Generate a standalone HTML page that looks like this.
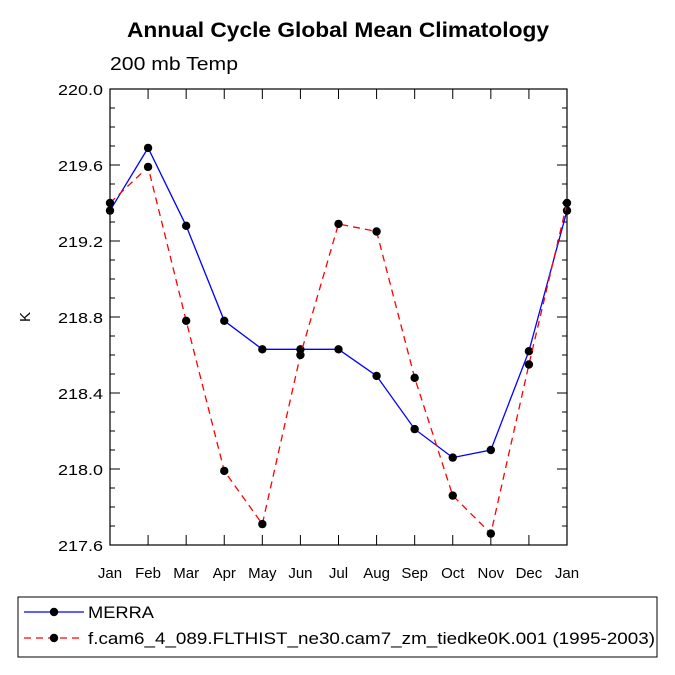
<!DOCTYPE html>
<html><head><meta charset="utf-8"><style>
body{margin:0;background:#fff;}
svg{display:block;font-family:"Liberation Sans",Helvetica,Arial,sans-serif;}
</style></head><body>
<svg id="chart" width="675" height="675" viewBox="0 0 675 675">
<text x="127" y="37" font-size="21" font-weight="bold" textLength="422" lengthAdjust="spacingAndGlyphs">Annual Cycle Global Mean Climatology</text>
<text x="110" y="70" font-size="18" textLength="128" lengthAdjust="spacingAndGlyphs">200 mb Temp</text>
<text x="30" y="317" text-anchor="middle" font-size="15" transform="rotate(-90 30 317)">K</text>
<rect x="110" y="89" width="457" height="456" fill="none" stroke="#000" stroke-width="1.2"/>
<g id="axes"></g>
<g id="series"></g>
<rect x="18" y="597" width="639" height="60" fill="none" stroke="#000" stroke-width="1"/>
<g>
<line x1="24" y1="612" x2="84" y2="612" stroke="#00f" stroke-width="1.3"/>
<circle cx="54" cy="612" r="4.2" fill="#000"/>
<text x="88" y="618" font-size="17" textLength="66" lengthAdjust="spacingAndGlyphs">MERRA</text>
</g>
<g>
<line x1="24" y1="638" x2="84" y2="638" stroke="#f00" stroke-width="1.3" stroke-dasharray="7,5"/>
<circle cx="54" cy="638" r="4.2" fill="#000"/>
<text x="88" y="644" font-size="17" textLength="567" lengthAdjust="spacingAndGlyphs">f.cam6_4_089.FLTHIST_ne30.cam7_zm_tiedke0K.001 (1995-2003)</text>
</g>
</svg>
<script>
const months = ["Jan","Feb","Mar","Apr","May","Jun","Jul","Aug","Sep","Oct","Nov","Dec","Jan"];
const merra = [219.36,219.69,219.28,218.78,218.63,218.63,218.63,218.49,218.21,218.06,218.10,218.62,219.36];
const cam = [219.40,219.59,218.78,217.99,217.71,218.60,219.29,219.25,218.48,217.86,217.66,218.55,219.40];
const yTicks = [217.6,218.0,218.4,218.8,219.2,219.6,220.0];
const yTickLabels = ["217.6","218.0","218.4","218.8","219.2","219.6","220.0"];
const yMin = 217.6, yMax = 220.0;
const L=110,R=567,T=89,B=545;
const NS="http://www.w3.org/2000/svg";
function xs(i){return L+(R-L)*i/(months.length-1);}
function ys(v){return B-(B-T)*(v-yMin)/(yMax-yMin);}
function mk(tag,attrs,parent){const e=document.createElementNS(NS,tag);for(const k in attrs)e.setAttribute(k,attrs[k]);parent.appendChild(e);return e;}
const ax=document.getElementById('axes');
yTicks.forEach((v,i)=>{
  const y=ys(v);
  const g=mk('g',{},ax);
  
  
  mk('line',{x1:L,y1:y,x2:L+10,y2:y,stroke:'#000'},g);
  mk('line',{x1:R,y1:y,x2:R-10,y2:y,stroke:'#000'},g);
  const t=mk('text',{x:L-52,y:y+6,'font-size':15,textLength:45,lengthAdjust:'spacingAndGlyphs'},g);
  t.textContent=yTickLabels[i];
});
for(let v=yMin;v<yMax-0.01;v+=0.1){
  const y=ys(v);
  mk('line',{x1:L,y1:y,x2:L+5,y2:y,stroke:'#000'},ax);
  mk('line',{x1:R,y1:y,x2:R-5,y2:y,stroke:'#000'},ax);
}
months.forEach((m,i)=>{
  const x=xs(i);
  const g=mk('g',{},ax);
  
  
  mk('line',{x1:x,y1:B,x2:x,y2:B-10,stroke:'#000'},g);
  mk('line',{x1:x,y1:T,x2:x,y2:T+10,stroke:'#000'},g);
  const t=mk('text',{x:x,y:B+33,'text-anchor':'middle','font-size':15},g);
  t.textContent=m;
});
const sg=document.getElementById('series');
function drawSeries(vals,color,dash,name){
  const g=mk('g',{},sg);
  
  
  const pts=vals.map((v,i)=>xs(i)+','+ys(v)).join(' ');
  const a={points:pts,fill:'none',stroke:color,'stroke-width':1.3};
  if(dash)a['stroke-dasharray']=dash;
  mk('polyline',a,g);
  vals.forEach((v,i)=>{const c=mk('circle',{cx:xs(i),cy:ys(v),r:4.2,fill:'#000'},g);
    
    });
}
drawSeries(merra,'#00f',null,'merra-line');
drawSeries(cam,'#f00','7,5','cam6-line');
</script>
</body></html>
